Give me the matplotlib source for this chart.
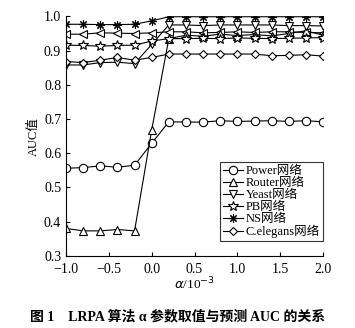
import matplotlib
matplotlib.use('Agg')
import matplotlib.pyplot as plt

# alpha values (x 10^-3)
alpha = [-1.0, -0.8, -0.6, -0.4, -0.2, 0.0, 0.2, 0.4, 0.6, 0.8, 1.0, 1.2, 1.4, 1.6, 1.8, 2.0]

power = [0.556, 0.558, 0.563, 0.559, 0.565, 0.629, 0.692, 0.691, 0.691, 0.695, 0.693, 0.694, 0.695, 0.693, 0.695, 0.692]
router = [0.380, 0.373, 0.373, 0.377, 0.373, 0.668, 0.935, 0.945, 0.942, 0.948, 0.944, 0.947, 0.943, 0.950, 0.958, 0.945]
yeast = [0.858, 0.858, 0.865, 0.866, 0.862, 0.918, 0.975, 0.975, 0.973, 0.975, 0.975, 0.975, 0.975, 0.973, 0.973, 0.972]
pb = [0.916, 0.915, 0.913, 0.915, 0.916, 0.928, 0.935, 0.935, 0.936, 0.935, 0.937, 0.936, 0.935, 0.936, 0.937, 0.938]
ns = [0.977, 0.977, 0.976, 0.976, 0.977, 0.987, 0.999, 0.999, 0.999, 0.999, 0.999, 0.999, 0.999, 0.999, 0.999, 0.999]
celegans = [0.868, 0.865, 0.872, 0.880, 0.872, 0.880, 0.890, 0.890, 0.890, 0.890, 0.890, 0.890, 0.885, 0.886, 0.888, 0.884]
# unlabelled series drawn with left triangles
other = [0.948, 0.948, 0.952, 0.951, 0.950, 0.952, 0.955, 0.955, 0.952, 0.953, 0.955, 0.953, 0.955, 0.955, 0.953, 0.952]

labels = ['Power网络', 'Router网络', 'Yeast网络', 'PB网络', 'NS网络', 'C.elegans网络']
yticks = [0.3, 0.4, 0.5, 0.6, 0.7, 0.8, 0.9, 1.0]
xticks = [-1.0, -0.5, 0.0, 0.5, 1.0, 1.5, 2.0]

fonts = ['Liberation Serif', 'Noto Sans CJK SC']
plt.rcParams['font.family'] = fonts
plt.rcParams['axes.unicode_minus'] = True

fig = plt.figure(figsize=(3.55, 3.28), dpi=100)
ax = fig.add_axes([0.186, 0.22, 0.724, 0.73])

kw = dict(color='black', lw=0.8, markersize=6, markerfacecolor='white', markeredgewidth=0.8)
ax.plot(alpha, other, marker='<', **kw)
ax.plot(alpha, power, marker='o', label=labels[0], **kw)
ax.plot(alpha, router, marker='^', label=labels[1], **kw)
ax.plot(alpha, yeast, marker='v', label=labels[2], **kw)
ax.plot(alpha, pb, marker='*', label=labels[3], **dict(kw, markersize=7))
ax.plot(alpha, ns, marker=(8, 2, 0), label=labels[4], **kw)
ax.plot(alpha, celegans, marker='D', label=labels[5], **dict(kw, markersize=4.5))

ax.set_xlim(-1.0, 2.0)
ax.set_ylim(0.3, 1.0)
ax.set_xticks(xticks)
ax.set_yticks(yticks)
ax.set_xticklabels(['\u2212%.1f' % -v if v < 0 else '%.1f' % v for v in xticks])
ax.set_yticklabels(['%.1f' % v for v in yticks])
ax.tick_params(direction='in', length=3, width=0.8, labelsize=10)
ax.tick_params(axis='x', pad=5)
ax.spines['top'].set_visible(False)
ax.spines['right'].set_visible(False)
for s in ['left', 'bottom']:
    ax.spines[s].set_linewidth(0.8)

ax.set_xlabel(r'$\alpha$/10$^{-3}$', fontsize=9.5, labelpad=0)
ax.set_ylabel('AUC值', fontsize=9, labelpad=3)

leg = ax.legend(loc='lower right', bbox_to_anchor=(1.0, 0.06), fontsize=9, frameon=True, fancybox=False,
                edgecolor='black', handlelength=1.6, handletextpad=0.2, labelspacing=0.0,
                borderpad=0.25, borderaxespad=0.0)
leg.get_frame().set_linewidth(0.8)

fig.text(0.5, 0.035, '图 1    LRPA 算法 α 参数取值与预测 AUC 的关系', ha='center', va='center',
         fontsize=10, fontweight='bold', family=fonts)

fig.savefig('out.png', dpi=100)
